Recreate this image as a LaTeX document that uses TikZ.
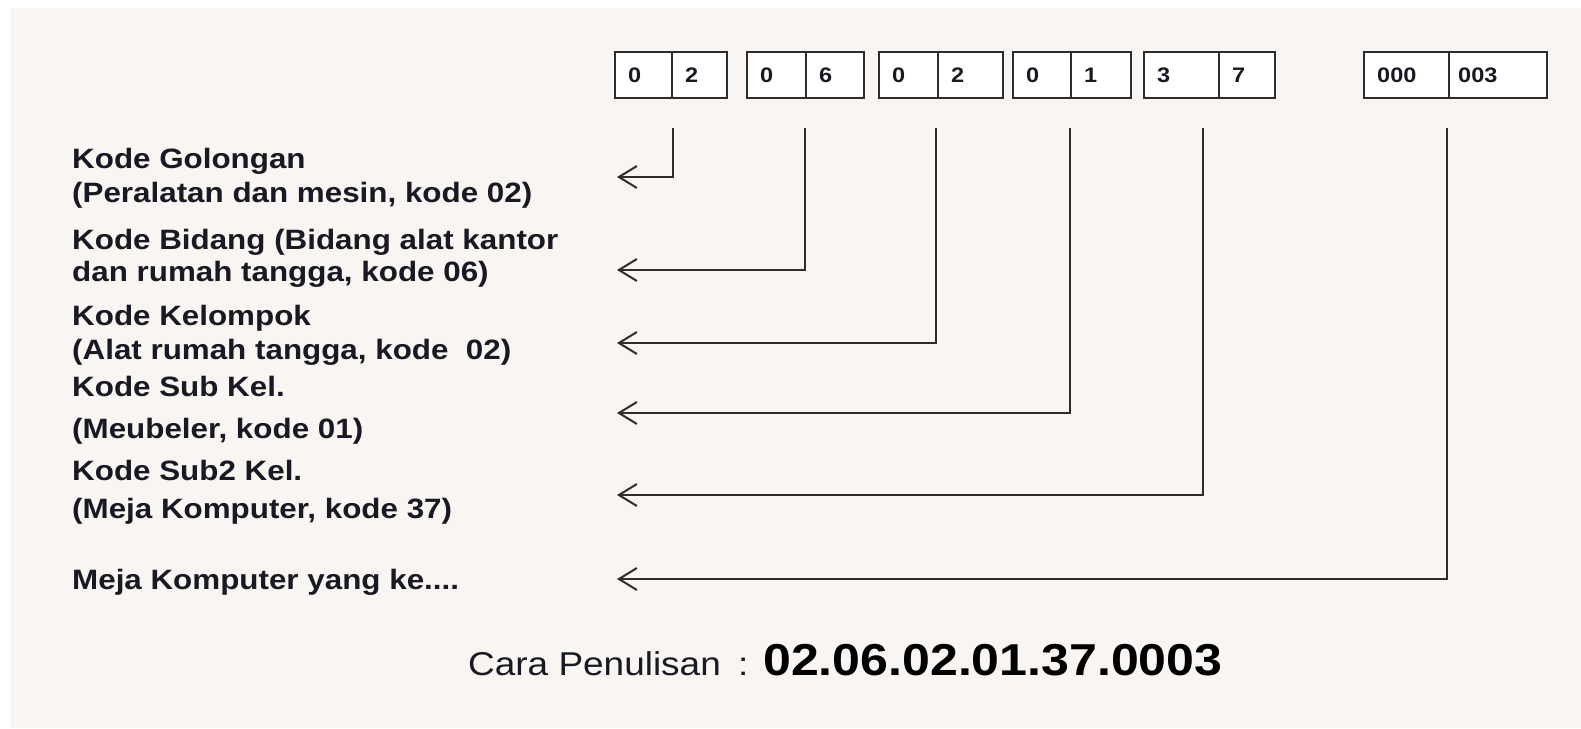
\documentclass[tikz,border=0pt]{standalone}
\usepackage{fontspec}
\setmainfont{Liberation Sans}
\newfontfamily\lbl{Liberation Sans}[FakeStretch=1.12]
\usetikzlibrary{arrows.meta}
\definecolor{bg}{RGB}{249,245,242}
\definecolor{ink}{RGB}{25,25,35}
\definecolor{ln}{RGB}{45,45,45}
\begin{document}
\begin{tikzpicture}[x=1pt,y=-1pt,
 cell/.style={draw=ln,line width=2.2pt,minimum height=46pt,inner sep=0pt,anchor=north west,fill=white},
 dig/.style={font=\lbl\bfseries\fontsize{21}{21}\selectfont,text=ink,anchor=west,inner sep=0pt},
 lab/.style={font=\lbl\bfseries\fontsize{28}{34}\selectfont,text=ink,align=left,anchor=base west,inner sep=0pt},
 arr/.style={draw=ln,line width=2pt,-{Straight Barb[length=18pt,width=22pt,line width=2pt]}}]
\useasboundingbox (0,0) rectangle (1581,728);
\fill[white] (0,0) rectangle (1581,728);
\fill[bg] (10,8) rectangle (1581,728);

% code boxes
\node[cell,minimum width=57pt] (c1a) at (614,51) {};
\node[cell,minimum width=55pt] (c1b) at (671,51) {};
\node[cell,minimum width=59pt] (c2a) at (746,51) {};
\node[cell,minimum width=58pt] (c2b) at (805,51) {};
\node[cell,minimum width=59pt] (c3a) at (878,51) {};
\node[cell,minimum width=65pt] (c3b) at (937,51) {};
\node[cell,minimum width=58pt] (c4a) at (1012,51) {};
\node[cell,minimum width=60pt] (c4b) at (1070,51) {};
\node[cell,minimum width=75pt] (c5a) at (1143,51) {};
\node[cell,minimum width=56pt] (c5b) at (1218,51) {};
\node[cell,minimum width=85pt] (c6a) at (1363,51) {};
\node[cell,minimum width=98pt] (c6b) at (1448,51) {};

\node[dig] (d1a) at ([xshift=14pt]c1a.west) {0};
\node[dig] (d1b) at ([xshift=14pt]c1b.west) {2};
\node[dig] (d2a) at ([xshift=14pt]c2a.west) {0};
\node[dig] (d2b) at ([xshift=14pt]c2b.west) {6};
\node[dig] (d3a) at ([xshift=14pt]c3a.west) {0};
\node[dig] (d3b) at ([xshift=14pt]c3b.west) {2};
\node[dig] (d4a) at ([xshift=14pt]c4a.west) {0};
\node[dig] (d4b) at ([xshift=14pt]c4b.west) {1};
\node[dig] (d5a) at ([xshift=14pt]c5a.west) {3};
\node[dig] (d5b) at ([xshift=14pt]c5b.west) {7};
\node[dig] (d6a) at ([xshift=14pt]c6a.west) {000};
\node[dig] (d6b) at ([xshift=10pt]c6b.west) {003};

% labels (anchor = baseline of the last line)
\node[lab] (l1) at (72,202) {Kode Golongan\\(Peralatan dan mesin, kode 02)};
\node[lab] (l2) at (72,281) {Kode Bidang (Bidang alat kantor\\[-2pt]dan rumah tangga, kode 06)};
\node[lab] (l3) at (72,359) {Kode Kelompok\\(Alat rumah tangga, kode\ \ 02)};
\node[lab] (l4) at (72,438) {Kode Sub Kel.\\[8pt](Meubeler, kode 01)};
\node[lab] (l5) at (72,518) {Kode Sub2 Kel.\\[4pt](Meja Komputer, kode 37)};
\node[lab] (l6) at (72,589) {Meja Komputer yang ke....};

% connectors
\coordinate (s1) at (673,128); \coordinate (t1) at (617,177);
\coordinate (s2) at (805,128); \coordinate (t2) at (617,270);
\coordinate (s3) at (936,128); \coordinate (t3) at (617,343);
\coordinate (s4) at (1070,128); \coordinate (t4) at (617,413);
\coordinate (s5) at (1203,128); \coordinate (t5) at (617,495);
\coordinate (s6) at (1447,128); \coordinate (t6) at (617,579);
\draw[arr] (s1) |- (t1);
\draw[arr] (s2) |- (t2);
\draw[arr] (s3) |- (t3);
\draw[arr] (s4) |- (t4);
\draw[arr] (s5) |- (t5);
\draw[arr] (s6) |- (t6);

% bottom
\node[font=\lbl\fontsize{33}{33}\selectfont,text=ink,anchor=base west,inner sep=0pt] (cara) at (468,675) {Cara Penulisan};
\node[font=\lbl\fontsize{33}{33}\selectfont,text=ink,anchor=base west,inner sep=0pt] (colon) at (738,675) {:};
\node[font=\lbl\bfseries\fontsize{44.7}{44.7}\selectfont,text=black,anchor=base west,inner sep=0pt] (num) at (763,675) {02.06.02.01.37.0003};
\end{tikzpicture}
\end{document}
